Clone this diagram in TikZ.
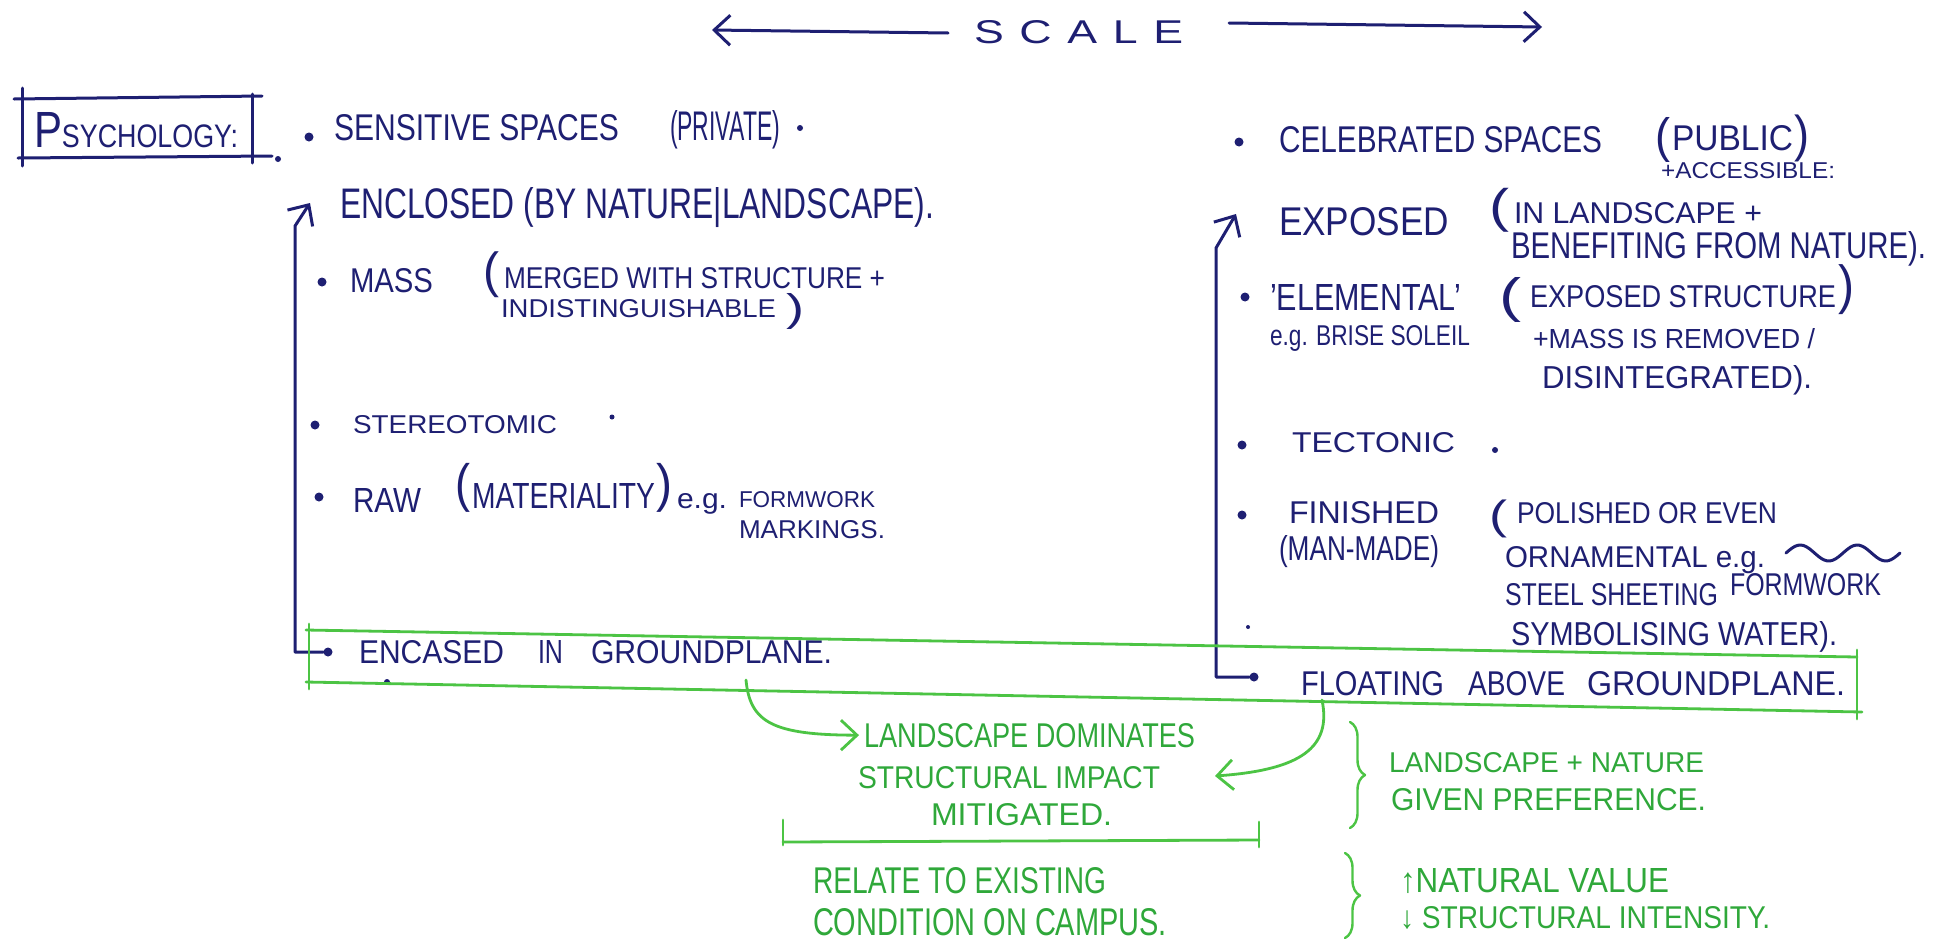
\documentclass[tikz,border=0pt]{standalone}
\usepackage{fontspec}
\setmainfont{Liberation Sans}
\usepackage{graphicx}
\usetikzlibrary{arrows.meta,decorations.pathreplacing}
\definecolor{ink}{HTML}{1E1F72}
\definecolor{gpen}{HTML}{4CC444}
\definecolor{gtext}{HTML}{2FA83A}
\newcommand{\fitT}[3]{\resizebox{#1pt}{#2pt}{#3}}
\newcommand{\fitP}[3]{\resizebox*{#1pt}{#2pt}{#3}}
\begin{document}
\begin{tikzpicture}[x=1pt,y=-1pt,
  bl/.style={inner sep=0pt, outer sep=0pt, anchor=base west, text=ink},
  gr/.style={inner sep=0pt, outer sep=0pt, anchor=base west, text=gtext},
  blp/.style={inner sep=0pt, outer sep=0pt, anchor=north west, text=ink},
  bline/.style={draw=ink, line width=3pt, line cap=round, line join=round},
  gline/.style={draw=gpen, line width=2.8pt, line cap=round, line join=round},
  bul/.style={circle, fill=ink, inner sep=0pt, minimum size=9pt},
  barb/.style={-{Straight Barb[length=16pt,width=30pt]}},
  brc/.style={gline, line width=2.4pt, decorate, decoration={brace, amplitude=15pt}},
]
\useasboundingbox[fill=white] (0,0) rectangle (1942,940);

% ---------- title ----------
\node[bl] (scale) at (974,43) {\fitT{209}{23}{S\kern0.35em C\kern0.35em A\kern0.35em L\kern0.35em E}};
\coordinate (slA) at (948,33); \coordinate (slB) at (712,30);
\coordinate (srA) at (1229,23); \coordinate (srB) at (1542,27);
\draw[bline,barb] (slA) -- (slB);
\draw[bline,barb] (srA) -- (srB);

% ---------- psychology box ----------
\node[bl] (psy) at (34,147) {\fitT{204}{35}{{\fontsize{10}{10}\selectfont P}{\fontsize{6.4}{6.4}\selectfont SYCHOLOGY:}}};
\draw[bline] (14,99) -- (262,96);
\draw[bline] (18,158) -- (272,156);
\draw[bline] (22,88) -- (22,166);
\draw[bline] (252,94) -- (252,163);
\fill[ink] (278,159) circle (3);

% ---------- left column ----------
\node[bul] (b1) at (309,137) {};
\node[bl] (t1a) at (334,140) {\fitT{285}{26}{SENSITIVE SPACES}};
\node[bl] (t1b) at (670,140) {\fitT{110}{30}{(PRIVATE)}};
\fill[ink] (800,128) circle (3);

\node[bl] (t2) at (340,218) {\fitT{594}{31}{ENCLOSED (BY NATURE|LANDSCAPE).}};

\node[bul] (b3) at (322,282) {};
\node[bl] (t3a) at (350,292) {\fitT{83}{24}{MASS}};
\node[blp] (p3a) at (483,252) {\fitP{16}{46}{(}};
\node[bl] (t3b) at (504,288) {\fitT{381}{21}{MERGED WITH STRUCTURE +}};
\node[bl] (t3c) at (501,317) {\fitT{275}{18}{INDISTINGUISHABLE}};
\node[blp] (p3b) at (786,293) {\fitP{18}{36}{)}};

\node[bul] (b4) at (315,425) {};
\node[bl] (t4) at (353,433) {\fitT{204}{18}{STEREOTOMIC}};
\fill[ink] (612,417) circle (2.5);

\node[bul] (b5) at (319,497) {};
\node[bl] (t5a) at (353,512) {\fitT{68}{24}{RAW}};
\node[blp] (p5a) at (455,463) {\fitP{15}{49}{(}};
\node[bl] (t5b) at (472,508) {\fitT{183}{25}{MATERIALITY}};
\node[blp] (p5b) at (656,463) {\fitP{16}{49}{)}};
\node[bl] (t5c) at (677,508) {\fitT{50}{15}{e.g.}};
\node[bl] (t5d) at (739,507) {\fitT{136}{16}{FORMWORK}};
\node[bl] (t5e) at (739,538) {\fitT{146}{18}{MARKINGS.}};

\node[bul] (b6) at (328,652) {};
\node[bl] (t6a) at (359,663) {\fitT{145}{23}{ENCASED}};
\node[bl] (t6b) at (538,663) {\fitT{25}{23}{IN}};
\node[bl] (t6c) at (591,663) {\fitT{241}{23}{GROUNDPLANE.}};
\fill[ink] (387,682) circle (3);

\coordinate (lbot) at (295,652); \coordinate (ltop) at (295,226); \coordinate (ltip) at (310,203);
\draw[bline,barb] (b6.west) -- (lbot) -- (ltop) -- (ltip);

% ---------- right column ----------
\node[bul] (r1) at (1239,142) {};
\node[bl] (u1a) at (1279,152) {\fitT{323}{26}{CELEBRATED SPACES}};
\node[blp] (p1a) at (1655,117) {\fitP{15}{45}{(}};
\node[bl] (u1b) at (1672,150) {\fitT{121}{25}{PUBLIC}};
\node[blp] (p1b) at (1794,115) {\fitP{15}{47}{)}};
\node[bl] (u1c) at (1661,178) {\fitT{174}{16}{+ACCESSIBLE:}};

\node[bl] (u2a) at (1279,235) {\fitT{170}{28}{EXPOSED}};
\node[blp] (p2) at (1489,188) {\fitP{20}{44}{(}};
\node[bl] (u2b) at (1514,223) {\fitT{248}{21}{IN LANDSCAPE +}};
\node[bl] (u2c) at (1511,258) {\fitT{415}{27}{BENEFITING FROM NATURE).}};

\node[bul] (r3) at (1245,297) {};
\node[bl] (u3a) at (1270,310) {\fitT{191}{26}{'ELEMENTAL'}};
\node[blp] (p3) at (1499,277) {\fitP{22}{45}{(}};
\node[bl] (u3b) at (1530,307) {\fitT{306}{22}{EXPOSED STRUCTURE}};
\node[blp] (p3c) at (1838,265) {\fitP{16}{50}{)}};
\node[bl] (u3c) at (1270,345) {\fitT{200}{20}{e.g. BRISE SOLEIL}};
\node[bl] (u3d) at (1533,348) {\fitT{282}{20}{+MASS IS REMOVED /}};
\node[bl] (u3e) at (1542,388) {\fitT{270}{23}{DISINTEGRATED).}};

\node[bul] (r4) at (1242,445) {};
\node[bl] (u4) at (1292,452) {\fitT{163}{20}{TECTONIC}};
\fill[ink] (1495,450) circle (3);

\node[bul] (r5) at (1242,515) {};
\node[bl] (u5a) at (1289,523) {\fitT{150}{22}{FINISHED}};
\node[bl] (u5b) at (1279,560) {\fitT{160}{25}{(MAN-MADE)}};
\node[blp] (p5) at (1489,500) {\fitP{18}{38}{(}};
\node[bl] (u5c) at (1517,523) {\fitT{260}{21}{POLISHED OR EVEN}};
\node[bl] (u5d) at (1505,567) {\fitT{260}{21}{ORNAMENTAL e.g.}};
\draw[bline] plot[smooth, domain=0:2, samples=40] ({1786+\x*57}, {553-8*sin(\x*360)});
\node[bl] (u5e) at (1505,605) {\fitT{213}{22}{STEEL SHEETING}};
\node[bl] (u5f) at (1730,595) {\fitT{151}{22}{FORMWORK}};
\node[bl] (u5g) at (1511,645) {\fitT{326}{24}{SYMBOLISING WATER).}};
\fill[ink] (1248,627) circle (2);

\node[bul] (r6) at (1254,677) {};
\node[bl] (u6a) at (1301,695) {\fitT{143}{24}{FLOATING}};
\node[bl] (u6b) at (1468,695) {\fitT{97}{24}{ABOVE}};
\node[bl] (u6c) at (1587,695) {\fitT{258}{24}{GROUNDPLANE.}};

\coordinate (rbot) at (1216,677); \coordinate (rtop) at (1216,248); \coordinate (rtip) at (1236,214);
\draw[bline,barb] (r6.west) -- (rbot) -- (rtop) -- (rtip);

% ---------- green box ----------
\draw[gline] (306,630) -- (1857,657);
\draw[gline] (306,682) -- (1862,712);
\draw[gline] (309,624) -- (309,689);
\draw[gline] (1857,650) -- (1857,719);

% ---------- green notes ----------
\node[gr] (g1) at (864,747) {\fitT{331}{24}{LANDSCAPE DOMINATES}};
\node[gr] (g2) at (858,788) {\fitT{302}{22}{STRUCTURAL IMPACT}};
\node[gr] (g3) at (931,825) {\fitT{181}{22}{MITIGATED.}};
\coordinate (ga1) at (746,680);
\draw[gline,barb] (ga1) .. controls (750,722) and (772,735) .. ([xshift=-5pt]g1.west);
\coordinate (ga2) at (1322,700); \coordinate (ga2t) at (1215,776);
\draw[gline,barb] (ga2) .. controls (1332,748) and (1300,770) .. (ga2t);

\draw[gline] (783,820) -- (783,845);
\draw[gline] (1259,822) -- (1259,847);
\draw[gline] (783,842) -- (1259,840);

\node[gr] (g4) at (813,893) {\fitT{293}{26}{RELATE TO EXISTING}};
\node[gr] (g5) at (813,935) {\fitT{354}{27}{CONDITION ON CAMPUS.}};

\draw[brc] (1350,722) -- (1350,828);
\node[gr] (g6) at (1389,772) {\fitT{315}{20}{LANDSCAPE + NATURE}};
\node[gr] (g7) at (1391,810) {\fitT{315}{22}{GIVEN PREFERENCE.}};

\draw[brc] (1345,853) -- (1345,938);
\node[gr] (g8) at (1400,892) {\fitT{269}{24}{↑NATURAL VALUE}};
\node[gr] (g9) at (1400,928) {\fitT{370}{22}{↓ STRUCTURAL INTENSITY.}};
\end{tikzpicture}
\end{document}
